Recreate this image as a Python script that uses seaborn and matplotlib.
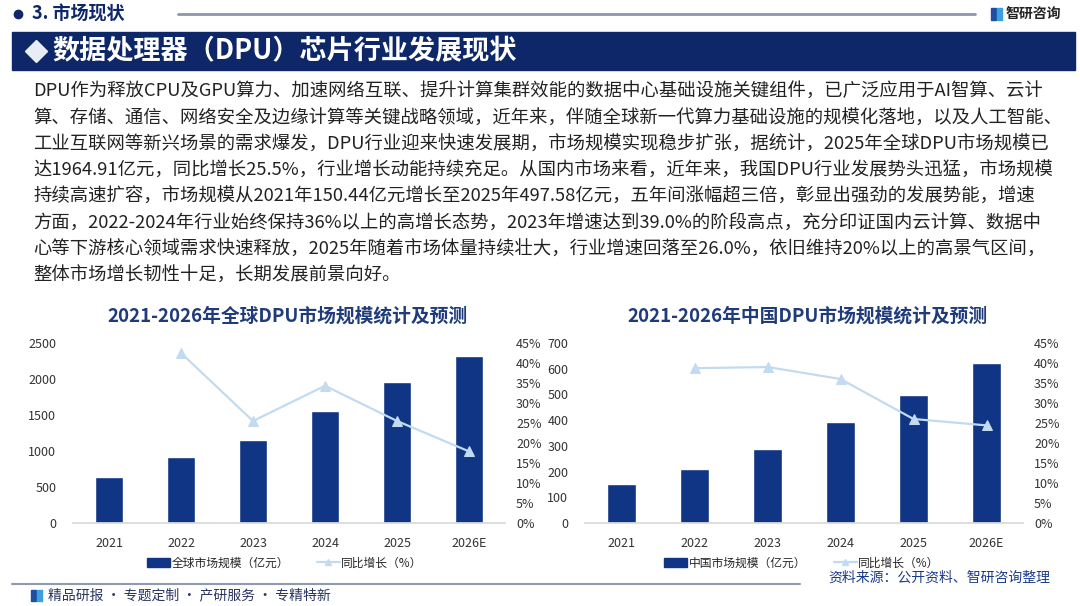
import numpy as np
import pandas as pd
import matplotlib
matplotlib.use('Agg')
import matplotlib.pyplot as plt
import seaborn as sns
from matplotlib.patches import Rectangle
from matplotlib.lines import Line2D
from matplotlib.ticker import FuncFormatter

# data
years = ['2021', '2022', '2023', '2024', '2025', '2026E']
global_size = [643, 921, 1157, 1560, 1964.91, 2324]
global_growth = [np.nan, 42.5, 25.5, 34.3, 25.5, 17.9]
china_size = [150.44, 209, 289, 394, 497.58, 621]
china_growth = [np.nan, 38.7, 39.0, 36.0, 26.0, 24.4]

body_lines = [
    'DPU作为释放CPU及GPU算力、加速网络互联、提升计算集群效能的数据中心基础设施关键组件，已广泛应用于AI智算、云计',
    '算、存储、通信、网络安全及边缘计算等关键战略领域，近年来，伴随全球新一代算力基础设施的规模化落地，以及人工智能、',
    '工业互联网等新兴场景的需求爆发，DPU行业迎来快速发展期，市场规模实现稳步扩张，据统计，2025年全球DPU市场规模已',
    '达1964.91亿元，同比增长25.5%，行业增长动能持续充足。从国内市场来看，近年来，我国DPU行业发展势头迅猛，市场规模',
    '持续高速扩容，市场规模从2021年150.44亿元增长至2025年497.58亿元，五年间涨幅超三倍，彰显出强劲的发展势能，增速',
    '方面，2022-2024年行业始终保持36%以上的高增长态势，2023年增速达到39.0%的阶段高点，充分印证国内云计算、数据中',
    '心等下游核心领域需求快速释放，2025年随着市场体量持续壮大，行业增速回落至26.0%，依旧维持20%以上的高景气区间，',
    '整体市场增长韧性十足，长期发展前景向好。',
]

sns.set_theme(style='white')
plt.rcParams['font.family'] = ['Noto Sans CJK SC', 'DejaVu Sans']
plt.rcParams['axes.unicode_minus'] = False

W, H = 1080, 606
BAR = '#0f3584'
LINE = '#c2dbf0'
NAVY = '#0e2768'

fig = plt.figure(figsize=(W / 100, H / 100), dpi=100)
fig.patch.set_facecolor('white')


def fx(px):
    return px / W


def fy(py):
    return 1 - py / H


# header
fig.add_artist(Line2D([fx(18)], [fy(14)], marker='o', markersize=6, color=NAVY, transform=fig.transFigure))
fig.text(fx(32), fy(14), '3. 市场现状', fontsize=13, fontweight='bold', color=NAVY, va='center')
fig.add_artist(Line2D([fx(178), fx(975)], [fy(14), fy(14)], color='#8d96aa', lw=2, transform=fig.transFigure))
fig.add_artist(Rectangle((fx(991), fy(20)), fx(5), 12 / H, color='#1f4fa0', transform=fig.transFigure))
fig.add_artist(Rectangle((fx(997), fy(20)), fx(5), 12 / H, color='#3aa0e0', transform=fig.transFigure))
fig.text(fx(1006), fy(14), '智研咨询', fontsize=10, fontweight='bold', color='#222222', va='center')

# banner
fig.add_artist(Rectangle((fx(12), fy(70)), fx(1063), 38 / H, color=NAVY, transform=fig.transFigure))
fig.add_artist(Line2D([fx(36)], [fy(51)], marker='D', markersize=11, color='#e8ecf4', transform=fig.transFigure))
fig.text(fx(52), fy(51), '数据处理器（DPU）芯片行业发展现状', fontsize=19.5, fontweight='bold',
         color='white', va='center')

# body text
for i, line in enumerate(body_lines):
    fig.text(fx(33), fy(92 + i * 26.3), line, fontsize=13.2, color='#222222', va='center')


def draw_chart(left_px, right_px, sizes, growth, ymax, ystep, title, title_cx, legend_cx, label):
    ax = fig.add_axes([fx(left_px), fy(523), fx(right_px - left_px), 180 / H])
    df = pd.DataFrame({'year': years, 'size': sizes, 'growth': growth})
    sns.barplot(data=df, x='year', y='size', color=BAR, width=0.4, saturation=1, ax=ax)
    ax.set_ylim(0, ymax)
    ax.set_yticks(np.arange(0, ymax + 1, ystep))
    ax.set_xlabel('')
    ax.set_ylabel('')
    for s in ['top', 'left', 'right']:
        ax.spines[s].set_visible(False)
    ax.spines['bottom'].set_color('#d9d9d9')
    ax.tick_params(axis='both', length=0, labelsize=9, colors='#333333')
    ax.tick_params(axis='x', pad=10)
    ax.tick_params(axis='y', pad=12)

    ax2 = ax.twinx()
    sns.lineplot(x=np.arange(len(years)), y=df['growth'], color=LINE, lw=1.6, marker='^',
                 markersize=7, markeredgecolor=LINE, ax=ax2)
    ax2.set_ylim(0, 45)
    ax2.set_yticks(np.arange(0, 46, 5))
    ax2.yaxis.set_major_formatter(FuncFormatter(lambda v, p: f'{v:.0f}%'))
    ax2.set_ylabel('')
    for s in ['top', 'left', 'right', 'bottom']:
        ax2.spines[s].set_visible(False)
    ax2.tick_params(axis='y', length=0, labelsize=9, colors='#333333', pad=8)
    ax.set_xlim(-0.5, len(years) - 0.5)

    fig.text(fx(title_cx), fy(316), title, fontsize=13.5, fontweight='bold', color='#1f3b7a',
             ha='center', va='center')
    handles = [Rectangle((0, 0), 1, 1, color=BAR),
               Line2D([0], [0], color=LINE, lw=1.6, marker='^', markersize=5)]
    fig.legend(handles, [label, '同比增长（%）'], loc='center', ncol=2,
               bbox_to_anchor=(fx(legend_cx), fy(563)), frameon=False, fontsize=8.5,
               handlelength=1.9, handleheight=0.8, handletextpad=0.15, columnspacing=2.4)


draw_chart(73, 505, global_size, global_growth, 2500, 500,
           '2021-2026年全球DPU市场规模统计及预测', 287, 285, '全球市场规模（亿元）')
draw_chart(585, 1023, china_size, china_growth, 700, 100,
           '2021-2026年中国DPU市场规模统计及预测', 807, 802, '中国市场规模（亿元）')

# footer
fig.add_artist(Line2D([fx(12), fx(800)], [fy(584), fy(584)], color='#8d9ab0', lw=1.5, transform=fig.transFigure))
fig.text(fx(828), fy(578), '资料来源：公开资料、智研咨询整理', fontsize=10, color='#1a3a8a', va='center')
fig.add_artist(Rectangle((fx(31), fy(601)), fx(5), 11 / H, color='#1f4fa0', transform=fig.transFigure))
fig.add_artist(Rectangle((fx(37), fy(601)), fx(5), 11 / H, color='#3aa0e0', transform=fig.transFigure))
fig.text(fx(48), fy(595), '精品研报 · 专题定制 · 产研服务 · 专精特新', fontsize=10, color='#2a3560', va='center')

fig.savefig('out.png', dpi=100, facecolor='white')
